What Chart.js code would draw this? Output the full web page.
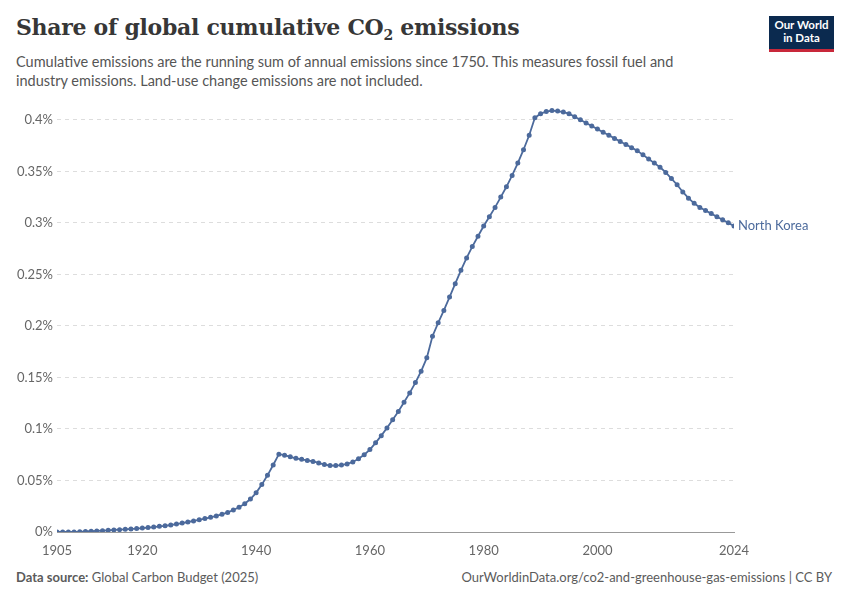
<!DOCTYPE html>
<html><head><meta charset="utf-8">
<script src="https://cdn.jsdelivr.net/npm/chart.js@4"></script>
<style>
body{margin:0;width:850px;height:600px;background:#fff;font-family:Lato,sans-serif;position:relative;overflow:hidden}
#title{position:absolute;left:16px;top:14px;font-family:"DejaVu Serif",serif;font-weight:bold;font-size:22px;color:#373737;letter-spacing:-0.3px}
#sub{position:absolute;left:16px;top:52px;width:700px;font-size:14.5px;line-height:19px;color:#555}
#logo{position:absolute;left:769px;top:16px;width:65px;height:36px;background:#0b2a4f;color:#fff;font-size:11.5px;font-weight:bold;text-align:center;line-height:13px;padding-top:2px;box-sizing:border-box;border-bottom:3px solid #c8283a}
#foot1{position:absolute;left:16px;top:569px;font-size:13px;color:#5b5b5b}
#foot2{position:absolute;right:18px;top:569px;font-size:13px;color:#5b5b5b}
#wrap{position:absolute;left:0;top:90px;width:850px;height:470px}
</style></head><body>
<div id="title">Share of global cumulative CO<sub style="font-size:14px">2</sub> emissions</div>
<div id="sub">Cumulative emissions are the running sum of annual emissions since 1750. This measures fossil fuel and industry emissions. Land-use change emissions are not included.</div>
<div id="logo">Our World<br>in Data</div>
<div id="foot1"><b>Data source:</b> Global Carbon Budget (2025)</div>
<div id="foot2">OurWorldinData.org/co2-and-greenhouse-gas-emissions | CC BY</div>
<div id="wrap"><canvas id="c"></canvas></div>
<script>
const firstYear = 1905;
const shares = [0,0,0,0,0.0002,0.0005,0.0008,0.001,0.0013,0.0016,
0.002,0.0023,0.0026,0.003,0.0033,0.0038,0.0043,0.0048,0.0055,0.006,
0.0068,0.0077,0.0087,0.0097,0.0107,0.0118,0.013,0.0142,0.0156,0.0172,
0.019,0.0213,0.024,0.0275,0.032,0.038,0.046,0.055,0.065,0.0755,
0.0745,0.073,0.0715,0.0705,0.0695,0.0685,0.067,0.0655,0.0645,0.0645,
0.065,0.066,0.068,0.071,0.075,0.08,0.0865,0.0935,0.101,0.109,
0.117,0.126,0.135,0.145,0.156,0.169,0.19,0.203,0.215,0.228,
0.241,0.254,0.266,0.277,0.287,0.297,0.306,0.315,0.325,0.335,
0.346,0.358,0.371,0.385,0.402,0.406,0.408,0.409,0.4085,0.4075,
0.406,0.403,0.4,0.397,0.394,0.391,0.388,0.385,0.382,0.379,
0.376,0.373,0.37,0.366,0.362,0.358,0.354,0.349,0.343,0.337,
0.33,0.324,0.319,0.315,0.312,0.309,0.306,0.303,0.3,0.297];
const xTicks = [1905,1920,1940,1960,1980,2000,2024];
const yTicks = [0,0.05,0.1,0.15,0.2,0.25,0.3,0.35,0.4];
const seriesName = 'North Korea';
const color = '#4c6a9c';

const pts = shares.map((v,i)=>({x:firstYear+i,y:v}));

const endLabel = {
  id:'endLabel',
  afterDatasetsDraw(chart){
    const m = chart.getDatasetMeta(0).data;
    const p = m[m.length-1];
    const ctx = chart.ctx;
    ctx.save();
    ctx.fillStyle = color;
    ctx.font = '13px Lato';
    ctx.textBaseline = 'middle';
    ctx.fillText(seriesName, p.x+4, p.y);
    ctx.restore();
  }
};

new Chart(document.getElementById('c'), {
  type:'line',
  data:{datasets:[{data:pts,borderColor:color,backgroundColor:color,borderWidth:1.8,pointRadius:1.6,pointHoverRadius:1.6,tension:0}]},
  options:{
    responsive:true,maintainAspectRatio:false,animation:false,
    layout:{padding:{top:7,right:116,left:0,bottom:0}},
    plugins:{legend:{display:false},tooltip:{enabled:false}},
    scales:{
      x:{type:'linear',min:1905,max:2024,
        afterBuildTicks(a){a.ticks=xTicks.map(v=>({value:v}));},
        afterFit(a){a.height=28;},
        grid:{display:false,drawTicks:true},
        border:{color:'#999'},
        ticks:{color:'#666',font:{family:'Lato',size:13},maxRotation:0,autoSkip:false,callback:v=>String(v)}},
      y:{min:0,max:0.4175,
        afterBuildTicks(a){a.ticks=yTicks.map(v=>({value:v}));},
        afterFit(a){a.width=57;},
        border:{display:false,dash:[4,4]},
        grid:{color:'#dddddd',drawTicks:false},
        ticks:{color:'#666',font:{family:'Lato',size:13},padding:4,callback:v=>(+v.toFixed(2))+'%'}}
    }
  },
  plugins:[endLabel]
});
</script>
</body></html>
